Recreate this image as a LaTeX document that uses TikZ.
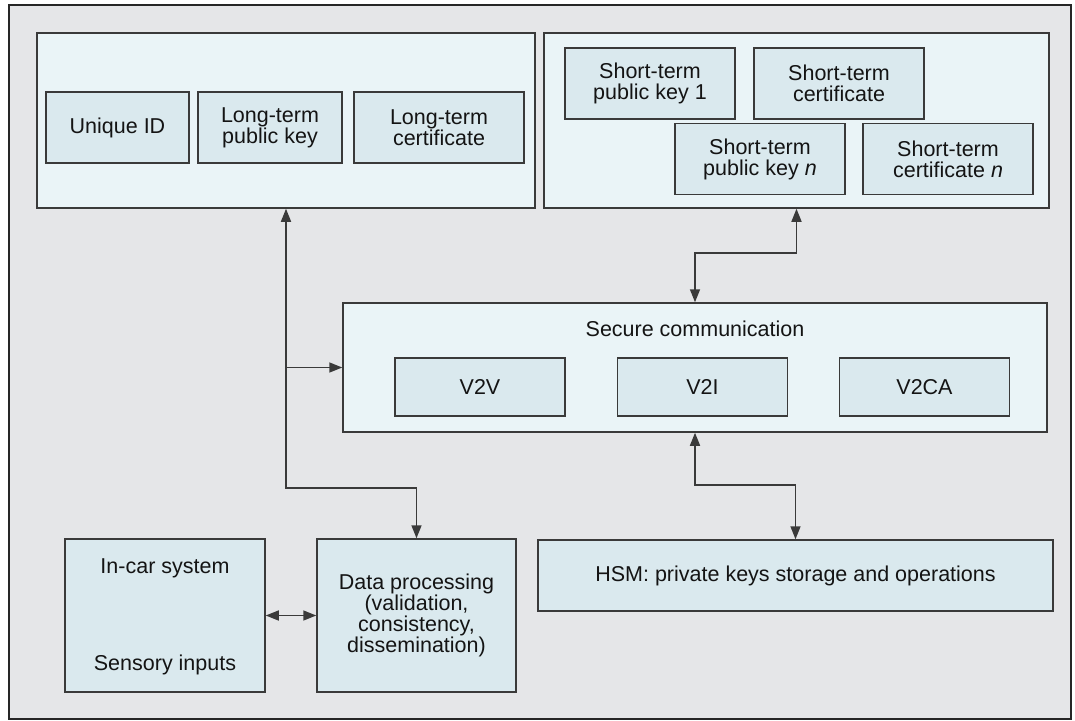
\documentclass[tikz,border=0pt]{standalone}
\usepackage{fontspec}
\setmainfont{Liberation Sans}
\usetikzlibrary{arrows.meta}
\definecolor{framegray}{HTML}{E5E6E8}
\definecolor{panelblue}{HTML}{EAF4F7}
\definecolor{keyblue}{HTML}{DAE9EE}
\definecolor{edgegray}{HTML}{3A3A3A}
\tikzset{
  panel/.style={rectangle,draw=edgegray,line width=1.5pt,fill=panelblue,inner sep=0pt},
  keybox/.style={rectangle,draw=edgegray,line width=1.5pt,fill=keyblue,inner sep=0pt,
    minimum height=71,align=center,font=\fontsize{21.5}{21}\selectfont},
  label/.style={inner sep=0pt,font=\fontsize{21.5}{21}\selectfont,align=center},
  link/.style={draw=edgegray,line width=1.6pt,-{Triangle[length=13pt,width=10pt]}},
  dlink/.style={link,{Triangle[length=13pt,width=10pt]}-{Triangle[length=13pt,width=10pt]}}
}
\begin{document}
\begin{tikzpicture}[x=1pt,y=-1pt,text=black!92]
  \useasboundingbox (0,0) rectangle (1075,720);
  \draw[line width=1.8pt,draw=black!85,fill=framegray] (9,5) rectangle (1071,719);
  \node[panel,minimum width=498,minimum height=175] (tl) at (286,120.5) {};
  \node[panel,minimum width=505,minimum height=175] (tr) at (796.5,120.5) {};
  \node[panel,minimum width=704,minimum height=129] (sc) at (695,367.5) {};
  \node[label] (sctitle) at ([yshift=-27]sc.north) {Secure communication};
  \node[keybox,minimum width=143] (uid) at (117.5,127.5) {Unique ID};
  \node[keybox,minimum width=144] (ltpk) at (270,127.5) {Long-term\\public key};
  \node[keybox,minimum width=170] (ltc) at (439,127.5) {Long-term\\certificate};
  \node[keybox,minimum width=170] (stpk1) at (650,83.5) {Short-term\\public key 1};
  \node[keybox,minimum width=170] (stc) at (839,83.5) {Short-term\\certificate};
  \node[keybox,minimum width=170] (stpkn) at (760,159) {Short-term\\public key \textit{n}};
  \node[keybox,minimum width=170] (stcn) at (948,159) {Short-term\\certificate \textit{n}};
  \node[keybox,minimum width=170,minimum height=58] (v2v) at (480,387) {V2V};
  \node[keybox,minimum width=170,minimum height=58] (v2i) at (702.5,387) {V2I};
  \node[keybox,minimum width=170,minimum height=58] (v2ca) at (924.5,387) {V2CA};
  \node[keybox,minimum width=515] (hsm) at (795.5,575.5) {HSM: private keys storage and operations};
  \node[keybox,minimum width=200,minimum height=153] (ic) at (165,615.5) {};
  \node[label] (icsys) at ([yshift=-30]ic.north) {In-car system};
  \node[label] (icsens) at ([yshift=28]ic.south) {Sensory inputs};
  \node[keybox,minimum width=199,minimum height=153] (dp) at (416.5,615.5)
    {Data processing\\(validation,\\consistency,\\dissemination)};
  \coordinate (bendA) at (0,488);
  \coordinate (bendB) at (0,253);
  \coordinate (bendC) at (0,485);
  \draw[dlink] (tl.south) |- (dp.north |- bendA) -- (dp.north);
  \draw[link] (tl.south |- sc.west) -- (sc.west);
  \draw[dlink] (tr.south) |- (sc.north |- bendB) -- (sc.north);
  \draw[dlink] (sc.south) |- (hsm.north |- bendC) -- (hsm.north);
  \draw[dlink] (ic.east) -- (dp.west);
\end{tikzpicture}
\end{document}
